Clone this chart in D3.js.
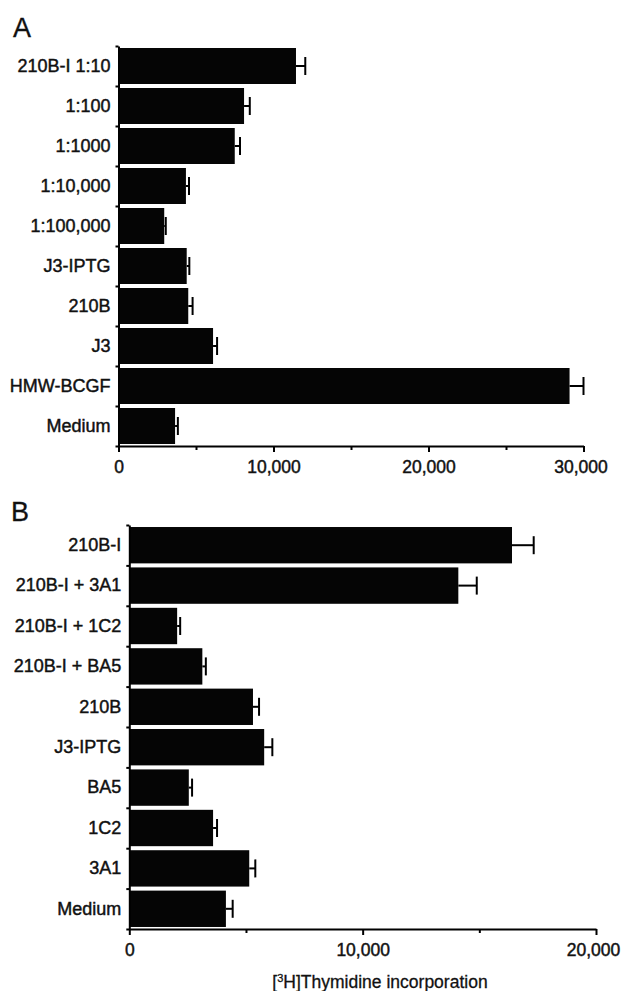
<!DOCTYPE html>
<html>
<head>
<meta charset="utf-8">
<script src="https://cdnjs.cloudflare.com/ajax/libs/d3/7.8.5/d3.min.js"></script>
<style>
  body { margin: 0; background: #fff; }
  svg text { font-family: "Liberation Sans", Arial, sans-serif; fill: #111; stroke: #111; stroke-width: 0.45px; }
</style>
</head>
<body>
<div id="chart"></div>
<script>
// panel A data
var catsA = ["210B-I 1:10", "1:100", "1:1000", "1:10,000", "1:100,000",
             "J3-IPTG", "210B", "J3", "HMW-BCGF", "Medium"];
var valsA = [11450, 8100, 7500, 4350, 2950, 4400, 4500, 6100, 29100, 3650];
var errsA = [600, 370, 340, 200, 100, 170, 280, 260, 900, 180];
var ticksA = [0, 10000, 20000, 30000];

// panel B data
var catsB = ["210B-I", "210B-I + 3A1", "210B-I + 1C2", "210B-I + BA5", "210B",
             "J3-IPTG", "BA5", "1C2", "3A1", "Medium"];
var valsB = [16400, 14100, 2050, 3130, 5300, 5780, 2550, 3590, 5140, 4140];
var errsB = [930, 790, 130, 150, 260, 350, 140, 170, 260, 290];
var ticksB = [0, 10000, 20000];

var xTitle = "Thymidine incorporation";

var svg = d3.select("#chart")
    .append("svg")
    .attr("width", 621)
    .attr("height", 991);

function drawPanel(letter, letterPos, cats, vals, errs, ticks, xr, yr) {
    let g = svg.append("g");
    let xMax = ticks[ticks.length - 1];

    let x = d3.scaleLinear()
        .domain([0, xMax])
        .range(xr);
    let y = d3.scaleBand()
        .domain(cats)
        .range(yr)
        .paddingInner(0.1)
        .paddingOuter(0.05);
    // boundaries between categories, for the small ticks on the left
    let yEdge = d3.scaleLinear()
        .domain([0, cats.length])
        .range(yr);

    // bars
    g.selectAll("rect.bar")
        .data(cats)
        .enter()
        .append("rect")
        .attr("class", "bar")
        .attr("x", x(0))
        .attr("y", function(d) { return y(d); })
        .attr("width", function(d, i) { return x(vals[i]) - x(0); })
        .attr("height", y.bandwidth())
        .attr("fill", "#050505");

    // error bars (one-sided)
    let eb = g.selectAll("g.err")
        .data(cats)
        .enter()
        .append("g")
        .attr("class", "err");
    eb.append("line")
        .attr("x1", function(d, i) { return x(vals[i]); })
        .attr("x2", function(d, i) { return x(vals[i] + errs[i]); })
        .attr("y1", function(d) { return y(d) + y.bandwidth() / 2; })
        .attr("y2", function(d) { return y(d) + y.bandwidth() / 2; })
        .attr("stroke", "#000")
        .attr("stroke-width", 2);
    eb.append("line")
        .attr("x1", function(d, i) { return x(vals[i] + errs[i]); })
        .attr("x2", function(d, i) { return x(vals[i] + errs[i]); })
        .attr("y1", function(d) { return y(d) + y.bandwidth() / 2 - 9; })
        .attr("y2", function(d) { return y(d) + y.bandwidth() / 2 + 9; })
        .attr("stroke", "#000")
        .attr("stroke-width", 2);

    // Y axis: line + boundary ticks
    let yAxis = g.append("g")
        .attr("transform", "translate(" + x(0) + ",0)")
        .call(d3.axisLeft(yEdge).tickValues(d3.range(cats.length + 1)).tickSize(3).tickSizeOuter(0).tickFormat(""));
    yAxis.select(".domain").attr("stroke-width", 2);
    yAxis.selectAll(".tick line").attr("stroke-width", 2);

    // Y labels
    let yLab = g.append("g")
        .attr("transform", "translate(" + x(0) + ",0)")
        .call(d3.axisLeft(y).tickSize(0).tickPadding(8));
    yLab.select(".domain").remove();
    yLab.selectAll("text")
        .style("font-size", "18px")
        .attr("fill", "#111");

    // X axis: minor ticks
    let minor = d3.range(5000, xMax, 10000);
    let xMinor = g.append("g")
        .attr("transform", "translate(0," + yr[1] + ")")
        .call(d3.axisBottom(x).tickValues(minor).tickSize(4).tickSizeOuter(0).tickFormat(""));
    xMinor.select(".domain").remove();
    xMinor.selectAll(".tick line").attr("stroke-width", 2);

    // X axis: major ticks + labels
    let xAxis = g.append("g")
        .attr("transform", "translate(0," + yr[1] + ")")
        .call(d3.axisBottom(x).tickValues(ticks).tickSize(6).tickSizeOuter(0)
            .tickFormat(d3.format(",")).tickPadding(9));
    xAxis.select(".domain").attr("stroke-width", 2);
    xAxis.selectAll(".tick line").attr("stroke-width", 2);
    xAxis.selectAll("text")
        .style("font-size", "17.5px")
        .attr("fill", "#111");
    // keep the last label inside the page
    xAxis.selectAll(".tick text")
        .filter(function(d) { return d == xMax; })
        .attr("dx", -3);

    // panel letter
    g.append("text")
        .attr("x", letterPos[0])
        .attr("y", letterPos[1])
        .style("font-size", "27px")
        .style("stroke-width", "0.3px")
        .text(letter);
}

drawPanel("A", [13, 37], catsA, valsA, errsA, ticksA, [118.5, 583.5], [46, 446]);
drawPanel("B", [11, 521], catsB, valsB, errsB, ticksB, [129.3, 596], [525, 929]);

// x-axis title
var title = svg.append("text")
    .attr("x", 380)
    .attr("y", 988)
    .attr("text-anchor", "middle")
    .style("font-size", "17.5px")
    .style("stroke-width", "0.3px");
title.append("tspan").text("[");
title.append("tspan").text("3").attr("baseline-shift", "super").style("font-size", "11px");
title.append("tspan").text("H]" + xTitle);
</script>
</body>
</html>
